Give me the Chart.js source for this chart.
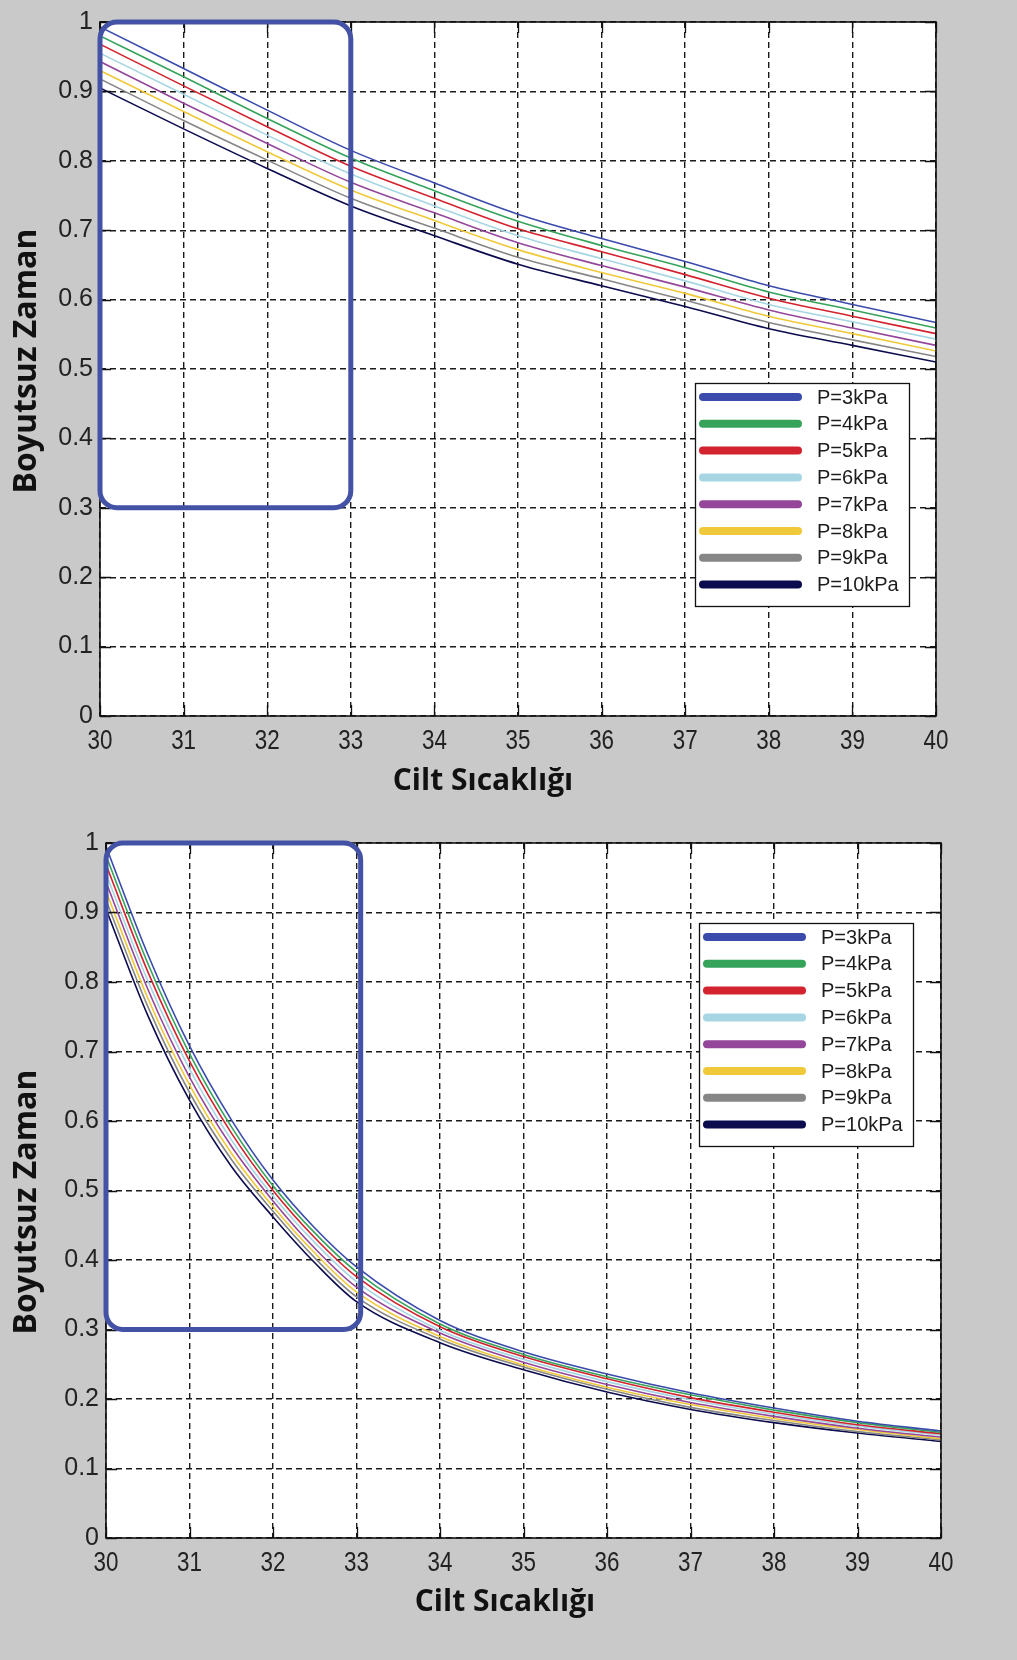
<!DOCTYPE html>
<html>
<head>
<meta charset="utf-8">
<script src="https://cdn.jsdelivr.net/npm/chart.js@4.4.1/dist/chart.umd.min.js"></script>
<style>
  html, body { margin: 0; padding: 0; background: #c9c9c9; }
  body { width: 1017px; height: 1660px; position: relative; overflow: hidden; }
  canvas { position: absolute; left: 0; }
  #chartTop { top: 0; }
  #chartBottom { top: 800px; }
</style>
</head>
<body>
<canvas id="chartTop" width="1017" height="800"></canvas>
<canvas id="chartBottom" width="1017" height="860"></canvas>
<script>
const seriesLabels = ['P=3kPa', 'P=4kPa', 'P=5kPa', 'P=6kPa', 'P=7kPa', 'P=8kPa', 'P=9kPa', 'P=10kPa'];
const seriesColors = ['#3b4bab', '#35a35a', '#d3232e', '#a6d6e3', '#94479a', '#f0c93a', '#868686', '#0b0b4e'];

// upper panel
const topTemps = [30, 31, 32, 33, 34, 35, 36, 37, 38, 39, 40];
const topP3  = [0.993, 0.933, 0.873, 0.815, 0.768, 0.723, 0.688, 0.655, 0.620, 0.593, 0.567];
const topP4  = [0.980, 0.921, 0.861, 0.804, 0.757, 0.713, 0.678, 0.646, 0.611, 0.585, 0.559];
const topP5  = [0.968, 0.908, 0.849, 0.792, 0.746, 0.702, 0.669, 0.636, 0.602, 0.576, 0.551];
const topP6  = [0.955, 0.896, 0.837, 0.781, 0.735, 0.692, 0.659, 0.627, 0.593, 0.568, 0.543];
const topP7  = [0.943, 0.883, 0.825, 0.769, 0.725, 0.682, 0.649, 0.618, 0.585, 0.559, 0.534];
const topP8  = [0.930, 0.871, 0.813, 0.758, 0.714, 0.672, 0.639, 0.609, 0.576, 0.551, 0.526];
const topP9  = [0.918, 0.858, 0.801, 0.746, 0.703, 0.661, 0.630, 0.599, 0.567, 0.542, 0.518];
const topP10 = [0.905, 0.846, 0.789, 0.735, 0.692, 0.651, 0.620, 0.590, 0.558, 0.534, 0.510];
const topSeries = [topP3, topP4, topP5, topP6, topP7, topP8, topP9, topP10];

// lower panel
const bottomTemps = [30, 30.5, 31, 31.5, 32, 32.5, 33, 34, 35, 36, 37, 38, 39, 40];
const bottomP3  = [0.995, 0.840, 0.708, 0.602, 0.515, 0.446, 0.390, 0.313, 0.268, 0.236, 0.209, 0.187, 0.168, 0.154];
const bottomP4  = [0.982, 0.827, 0.697, 0.592, 0.507, 0.439, 0.383, 0.308, 0.264, 0.232, 0.206, 0.184, 0.166, 0.152];
const bottomP5  = [0.969, 0.815, 0.686, 0.583, 0.500, 0.432, 0.376, 0.304, 0.261, 0.229, 0.202, 0.181, 0.163, 0.150];
const bottomP6  = [0.956, 0.802, 0.675, 0.573, 0.492, 0.425, 0.369, 0.299, 0.257, 0.225, 0.199, 0.178, 0.161, 0.148];
const bottomP7  = [0.944, 0.790, 0.663, 0.564, 0.485, 0.417, 0.361, 0.295, 0.253, 0.221, 0.195, 0.175, 0.158, 0.145];
const bottomP8  = [0.931, 0.777, 0.652, 0.554, 0.477, 0.410, 0.354, 0.290, 0.249, 0.217, 0.192, 0.172, 0.156, 0.143];
const bottomP9  = [0.918, 0.765, 0.641, 0.545, 0.470, 0.403, 0.347, 0.286, 0.246, 0.214, 0.188, 0.169, 0.153, 0.141];
const bottomP10 = [0.905, 0.752, 0.630, 0.535, 0.462, 0.396, 0.340, 0.281, 0.242, 0.210, 0.185, 0.166, 0.151, 0.139];
const bottomSeries = [bottomP3, bottomP4, bottomP5, bottomP6, bottomP7, bottomP8, bottomP9, bottomP10];

// region marked with the rounded blue box (data units)
const topBox = { xMin: 30, xMax: 33, yMin: 0.3, yMax: 1 };
const bottomBox = { xMin: 30, xMax: 33.05, yMin: 0.3, yMax: 1 };

const xTitle = 'Cilt Sıcaklığı';
const yTitle = 'Boyutsuz Zaman';

const TICK_FONT = "'Liberation Sans', Arial, sans-serif";
const TITLE_FONT = "'Open Sans', 'Noto Sans', sans-serif";

// frame, inner ticks, condensed x labels, blue box, boxed legend and axis captions
const decorations = {
    id: 'decorations',
    afterDraw(chart, args, opts) {
        const { ctx, chartArea: a, scales: { x, y } } = chart;
        ctx.save();

        ctx.strokeStyle = '#111';
        ctx.lineWidth = 1.3;
        ctx.setLineDash([]);
        ctx.beginPath();
        x.ticks.forEach(t => {
            const px = Math.round(x.getPixelForValue(t.value)) + 0.5;
            ctx.moveTo(px, a.bottom); ctx.lineTo(px, a.bottom - 11);
            ctx.moveTo(px, a.top); ctx.lineTo(px, a.top + 11);
        });
        y.ticks.forEach(t => {
            const py = Math.round(y.getPixelForValue(t.value)) + 0.5;
            ctx.moveTo(a.left, py); ctx.lineTo(a.left + 11, py);
            ctx.moveTo(a.right, py); ctx.lineTo(a.right - 11, py);
        });
        ctx.stroke();
        ctx.lineWidth = 1.6;
        ctx.strokeRect(a.left, a.top, a.right - a.left, a.bottom - a.top);

        // x tick labels, tall and condensed
        ctx.fillStyle = '#222';
        ctx.font = '28px ' + TICK_FONT;
        ctx.textAlign = 'center';
        ctx.textBaseline = 'top';
        x.ticks.forEach(t => {
            ctx.save();
            ctx.translate(x.getPixelForValue(t.value), a.bottom + 11);
            ctx.scale(0.8, 1);
            ctx.fillText(t.label, 0, 0);
            ctx.restore();
        });

        // boxed legend
        const lg = opts.legend;
        const lx = a.right - lg.right, ly = a.top + lg.top;
        ctx.fillStyle = '#fff';
        ctx.fillRect(lx, ly, 214, 223);
        ctx.lineWidth = 1.3;
        ctx.strokeStyle = '#111';
        ctx.strokeRect(lx + 0.5, ly + 0.5, 214, 223);
        ctx.font = "20px 'Liberation Sans', Arial, sans-serif";
        ctx.textBaseline = 'middle';
        ctx.textAlign = 'left';
        ctx.lineCap = 'round';
        chart.data.datasets.forEach((ds, i) => {
            const ry = ly + 14 + i * 26.8;
            ctx.strokeStyle = ds.borderColor;
            ctx.lineWidth = 8;
            ctx.beginPath();
            ctx.moveTo(lx + 8, ry);
            ctx.lineTo(lx + 103, ry);
            ctx.stroke();
            ctx.fillStyle = '#1d1d1d';
            ctx.fillText(ds.label, lx + 122, ry + 1);
        });

        // rounded highlight box
        const b = opts.box;
        const bx0 = x.getPixelForValue(b.xMin), bx1 = x.getPixelForValue(b.xMax);
        const by0 = y.getPixelForValue(b.yMax), by1 = y.getPixelForValue(b.yMin);
        ctx.strokeStyle = '#4452a6';
        ctx.lineWidth = 5;
        ctx.beginPath();
        ctx.roundRect(bx0, by0, bx1 - bx0, by1 - by0, 17);
        ctx.stroke();

        // axis captions
        ctx.fillStyle = '#111';
        ctx.textAlign = 'center';
        ctx.textBaseline = 'middle';
        ctx.font = 'bold 30px ' + TITLE_FONT;
        ctx.fillText(xTitle, opts.xCaption.x, opts.xCaption.y);
        ctx.translate(opts.yCaption.x, opts.yCaption.y);
        ctx.rotate(-Math.PI / 2);
        ctx.font = 'bold 32px ' + TITLE_FONT;
        ctx.fillText(yTitle, 0, 0);
        ctx.restore();
    }
};

function buildChart(canvasId, temps, series, cfg) {
    const datasets = series.map((vals, i) => ({
        label: seriesLabels[i],
        data: temps.map((t, j) => ({ x: t, y: vals[j] })),
        borderColor: seriesColors[i],
        borderWidth: 1.6,
        pointRadius: 0,
        fill: false,
        cubicInterpolationMode: 'monotone'
    }));

    return new Chart(document.getElementById(canvasId), {
        type: 'line',
        data: { datasets },
        plugins: [decorations, {
            id: 'plotBg',
            beforeDraw(chart) {
                const { ctx, chartArea: a } = chart;
                ctx.save();
                ctx.fillStyle = '#fff';
                ctx.fillRect(a.left, a.top, a.right - a.left, a.bottom - a.top);
                ctx.restore();
            }
        }],
        options: {
            responsive: false,
            animation: false,
            layout: { padding: { top: cfg.top, right: cfg.right, left: 0, bottom: 0 } },
            plugins: {
                legend: { display: false },
                tooltip: { enabled: false },
                decorations: {
                    legend: cfg.legend,
                    box: cfg.box,
                    xCaption: cfg.xCaption,
                    yCaption: cfg.yCaption
                }
            },
            scales: {
                x: {
                    type: 'linear',
                    min: 30,
                    max: 40,
                    afterFit(scale) { scale.height = cfg.xHeight; },
                    ticks: { stepSize: 1, display: false },
                    grid: { color: '#1a1a1a', lineWidth: 1.4, drawTicks: false },
                    border: { display: false, dash: [6, 4] }
                },
                y: {
                    min: 0,
                    max: 1,
                    afterFit(scale) { scale.width = cfg.yWidth; },
                    ticks: {
                        stepSize: 0.1,
                        padding: 7,
                        color: '#222',
                        font: { family: TICK_FONT, size: 25 },
                        callback: v => String(+v.toFixed(1))
                    },
                    grid: { color: '#1a1a1a', lineWidth: 1.4, drawTicks: false },
                    border: { display: false, dash: [6, 4] }
                }
            }
        }
    });
}

buildChart('chartTop', topTemps, topSeries, {
    top: 22, right: 81, yWidth: 100, xHeight: 84,
    legend: { right: 241, top: 361 },
    box: topBox,
    xCaption: { x: 483, y: 781 },
    yCaption: { x: 27, y: 361 }
});

buildChart('chartBottom', bottomTemps, bottomSeries, {
    top: 43, right: 76, yWidth: 106, xHeight: 122,
    legend: { right: 242, top: 80 },
    box: bottomBox,
    xCaption: { x: 505, y: 802 },
    yCaption: { x: 27, y: 402 }
});
</script>
</body>
</html>
